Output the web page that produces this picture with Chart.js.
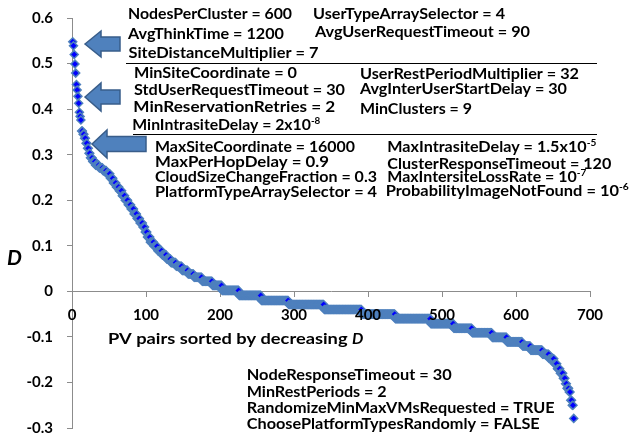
<!DOCTYPE html>
<html>
<head>
<meta charset="utf-8">
<title>D of PV pairs</title>
<script src="https://cdn.jsdelivr.net/npm/chart.js@4.4.1/dist/chart.umd.min.js"></script>
<style>
  html, body { margin: 0; padding: 0; background: #fff; }
  #wrap { width: 630px; height: 439px; }
</style>
</head>
<body>
<div id="wrap"><canvas id="chart" width="630" height="439"></canvas></div>
<script>
// D levels (sorted by decreasing D) and how many PV pairs sit on each
const dLevels = [
  0.548, 0.539, 0.520, 0.499, 0.479, 0.454, 0.442, 0.428, 0.413, 0.393, 0.384, 0.376,
  0.352, 0.345, 0.336, 0.325, 0.314, 0.303, 0.293, 0.285, 0.277, 0.271, 0.265, 0.258,
  0.248, 0.238, 0.229, 0.221, 0.210, 0.200, 0.190, 0.181, 0.170, 0.160, 0.150, 0.141,
  0.130, 0.119, 0.108, 0.099, 0.089, 0.080, 0.071, 0.063, 0.055, 0.046, 0.038, 0.031,
  0.022, 0.013, 0.002, -0.009, -0.020, -0.029, -0.040, -0.050, -0.060, -0.071, -0.081,
  -0.091, -0.101, -0.111, -0.120, -0.129, -0.138, -0.148, -0.159, -0.170, -0.180,
  -0.191, -0.203, -0.213, -0.221, -0.239, -0.250, -0.279
];
const dCounts = [
  1, 1, 1, 1, 1, 1, 1, 1, 1, 1, 1, 1,
  2, 2, 2, 2, 2, 2, 3, 4, 5, 5, 5, 5,
  4, 4, 4, 4, 4, 4, 4, 4, 4, 4, 4, 3,
  3, 4, 5, 5, 6, 6, 6, 7, 8, 8, 8, 11,
  14, 13, 23, 30, 37, 48, 51, 45, 48, 31, 25,
  27, 20, 21, 11, 16, 9, 7, 4, 4, 4,
  3, 2, 3, 2, 2, 2, 1
];
const xTicks = [0, 100, 200, 300, 400, 500, 600, 700];
const yTicks = [-0.3, -0.2, -0.1, 0, 0.1, 0.2, 0.3, 0.4, 0.5, 0.6];

// expand the runs into one point per PV pair
const pvPoints = [];
let rank = 1;
dLevels.forEach((d, i) => {
    for (let k = 0; k < dCounts[i]; k++) pvPoints.push({ x: rank++, y: d });
});

// --- annotation texts: [left x, baseline, width, parts] ---
const notes = [
    [128, 19.3, 164, ['NodesPerCluster = 600']],
    [128, 39.3, 156, ['AvgThinkTime = 1200']],
    [128.5, 57.7, 190, ['SiteDistanceMultiplier = 7']],
    [313, 19.3, 192, ['UserTypeArraySelector = 4']],
    [315, 37.3, 215, ['AvgUserRequestTimeout = 90']],

    [134, 77.7, 163, ['MinSiteCoordinate = 0']],
    [134, 95, 211, ['StdUserRequestTimeout = 30']],
    [133.3, 111.7, 202, ['MinReservationRetries = 2']],
    [132.3, 130, 188, ['MinIntrasiteDelay = 2x10', { sup: '-8' }]],
    [360, 79.3, 219, ['UserRestPeriodMultiplier = 32']],
    [360, 94.3, 207, ['AvgInterUserStartDelay = 30']],
    [360, 114.3, 112, ['MinClusters = 9']],

    [155, 151.7, 200, ['MaxSiteCoordinate = 16000']],
    [155, 166.7, 174, ['MaxPerHopDelay = 0.9']],
    [155, 181.7, 222, ['CloudSizeChangeFraction = 0.3']],
    [155, 197.3, 222, ['PlatformTypeArraySelector = 4']],
    [387.3, 151.7, 209, ['MaxIntrasiteDelay = 1.5x10', { sup: '-5' }]],
    [387.3, 169, 224, ['ClusterResponseTimeout = 120']],
    [387.3, 181.7, 199, ['MaxIntersiteLossRate = 10', { sup: '-7' }]],
    [385.7, 195.7, 243, ['ProbabilityImageNotFound = 10', { sup: '-6' }]],

    [246.7, 380, 205, ['NodeResponseTimeout = 30']],
    [246.7, 396.7, 140, ['MinRestPeriods = 2']],
    [246.7, 413.3, 308, ['RandomizeMinMaxVMsRequested = TRUE']],
    [246.7, 429.3, 293, ['ChoosePlatformTypesRandomly = FALSE']]
];

// separators between the groups: [x1, x2, y]
const rules = [[126, 597, 63.5], [133, 597, 134.5]];

// block arrows pointing at the curve: [tip x, tip y, head end x, head half height, shaft half height, tail x]
const arrows = [
    [85, 44, 101, 13, 7, 120],
    [85, 97, 101, 14, 7, 120],
    [92, 144, 107, 14, 7.5, 146]
];

const FONT = 'Lato, "Open Sans", sans-serif';

function drawParts(ctx, x, y, width, parts, size) {
    const supSize = Math.round(size * 0.62);
    const measure = () => parts.reduce((w, p) => {
        ctx.font = `bold ${typeof p === 'string' ? size : supSize}px ${FONT}`;
        return w + ctx.measureText(typeof p === 'string' ? p : p.sup).width;
    }, 0);
    const sx = width / measure();
    ctx.save();
    ctx.translate(x, y);
    ctx.scale(sx, 1);
    let cx = 0;
    parts.forEach(p => {
        if (typeof p === 'string') {
            ctx.font = `bold ${size}px ${FONT}`;
            ctx.fillText(p, cx, 0);
            cx += ctx.measureText(p).width;
        } else {
            ctx.font = `bold ${supSize}px ${FONT}`;
            ctx.fillText(p.sup, cx, -size * 0.38);
            cx += ctx.measureText(p.sup).width;
        }
    });
    ctx.restore();
}

const annotations = {
    id: 'annotations',
    // x tick labels sit on top of the markers, like the original
    afterDatasetsDraw(chart) {
        const ctx = chart.ctx;
        const xs = chart.scales.x;
        const y0 = chart.scales.y.getPixelForValue(0);
        ctx.save();
        ctx.fillStyle = '#000';
        ctx.font = `bold 15px ${FONT}`;
        ctx.textAlign = 'center';
        ctx.textBaseline = 'middle';
        xTicks.forEach(v => ctx.fillText(String(v), xs.getPixelForValue(v), y0 + 24));
        ctx.restore();
    },
    afterDraw(chart) {
        const ctx = chart.ctx;
        ctx.save();
        ctx.fillStyle = '#000';
        ctx.textAlign = 'left';
        ctx.textBaseline = 'alphabetic';

        notes.forEach(([x, y, w, parts]) => drawParts(ctx, x, y, w, parts, 16));

        ctx.strokeStyle = '#000';
        ctx.lineWidth = 1;
        rules.forEach(([x1, x2, y]) => {
            ctx.beginPath();
            ctx.moveTo(x1, y);
            ctx.lineTo(x2, y);
            ctx.stroke();
        });

        arrows.forEach(([tx, ty, hx, hh, sh, ex]) => {
            ctx.beginPath();
            ctx.moveTo(tx, ty);
            ctx.lineTo(hx, ty - hh);
            ctx.lineTo(hx, ty - sh);
            ctx.lineTo(ex, ty - sh);
            ctx.lineTo(ex, ty + sh);
            ctx.lineTo(hx, ty + sh);
            ctx.lineTo(hx, ty + hh);
            ctx.closePath();
            ctx.fillStyle = '#4f81bd';
            ctx.fill();
            ctx.strokeStyle = '#385d8a';
            ctx.lineWidth = 1.5;
            ctx.stroke();
        });

        // axis titles
        ctx.fillStyle = '#000';
        drawParts(ctx, 108, 344, 244, ['PV pairs sorted by decreasing '], 16);
        ctx.font = `italic bold 16px ${FONT}`;
        ctx.fillText('D', 352, 344);
        ctx.font = `italic bold 21px ${FONT}`;
        ctx.fillText('D', 7, 265);
        ctx.restore();
    }
};

const tickFont = { family: FONT, weight: 'bold', size: 15 };

new Chart(document.getElementById('chart'), {
    type: 'scatter',
    data: {
        datasets: [{
            label: 'D',
            data: pvPoints,
            pointStyle: 'rectRot',
            pointRadius: 4,
            pointHoverRadius: 4,
            backgroundColor: '#0000ff',
            borderColor: '#4f81bd',
            borderWidth: 1.5,
            clip: false
        }]
    },
    options: {
        responsive: false,
        animation: false,
        devicePixelRatio: 1,
        events: [],
        layout: { padding: { left: 0, top: 18, right: 40, bottom: 11 } },
        plugins: {
            legend: { display: false },
            tooltip: { enabled: false }
        },
        scales: {
            x: {
                type: 'linear',
                min: 0,
                max: 700,
                position: { y: 0 },
                afterBuildTicks: s => { s.ticks = xTicks.map(v => ({ value: v })); },
                afterFit: s => { s.height = 0; s.paddingLeft = 0; s.paddingRight = 0; },
                grid: { drawOnChartArea: false, tickLength: 5, color: '#8c8c8c' },
                border: { color: '#8c8c8c', width: 1 },
                ticks: { display: false, maxRotation: 0 }
            },
            y: {
                type: 'linear',
                min: -0.3,
                max: 0.6,
                afterBuildTicks: s => { s.ticks = yTicks.map(v => ({ value: v })); },
                afterFit: s => { s.width = 72; s.paddingTop = 0; s.paddingBottom = 0; },
                grid: { drawOnChartArea: false, tickLength: 5, color: '#8c8c8c' },
                border: { color: '#8c8c8c', width: 1 },
                ticks: {
                    font: tickFont,
                    color: '#000',
                    padding: 14,
                    callback: v => String(Math.round(v * 10) / 10)
                }
            }
        }
    },
    plugins: [annotations]
});
</script>
</body>
</html>
